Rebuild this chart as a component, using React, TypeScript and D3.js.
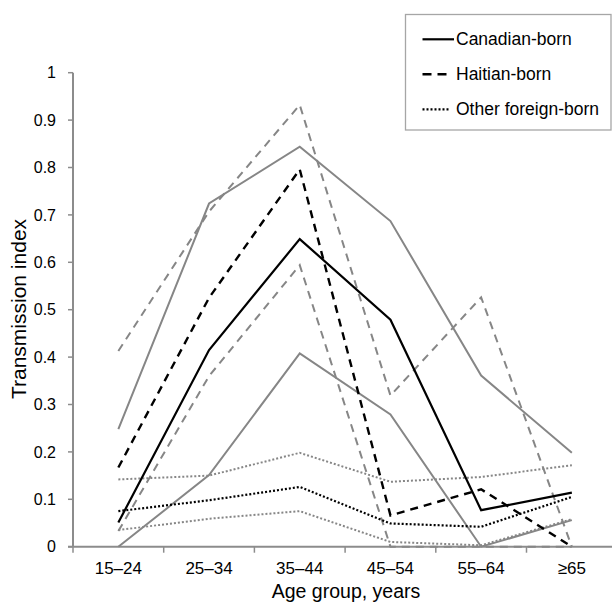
import React from "react";
import * as d3 from "d3";

const categories = ["15–24", "25–34", "35–44", "45–54", "55–64", "≥65"];
const yTicks = [0, 0.1, 0.2, 0.3, 0.4, 0.5, 0.6, 0.7, 0.8, 0.9, 1];

const canadian = [0.051, 0.415, 0.649, 0.479, 0.077, 0.114];
const canadianUpper = [0.248, 0.724, 0.844, 0.687, 0.361, 0.198];
const canadianLower = [0, 0.151, 0.408, 0.279, 0, 0.056];
const haitian = [0.167, 0.525, 0.796, 0.066, 0.121, 0];
const haitianUpper = [0.413, 0.707, 0.932, 0.319, 0.526, 0];
const haitianLower = [0.033, 0.36, 0.594, 0, 0, 0];
const other = [0.075, 0.098, 0.126, 0.049, 0.042, 0.105];
const otherUpper = [0.142, 0.15, 0.198, 0.137, 0.147, 0.172];
const otherLower = [0.035, 0.059, 0.075, 0.01, 0.003, 0.058];

const legendLabels = ["Canadian-born", "Haitian-born", "Other foreign-born"];

const GRAY = "#868686";
const AXIS = "#8c8c8c";
const FONT = "Liberation Sans, Arial, sans-serif";

type Style = { color: string; width: number; dash: string | null };
const solidBlack: Style = { color: "#000", width: 2.2, dash: null };
const dashBlack: Style = { color: "#000", width: 2.4, dash: "8,6" };
const dotBlack: Style = { color: "#000", width: 2.2, dash: "2,2" };
const solidGray: Style = { color: GRAY, width: 2, dash: null };
const dashGray: Style = { color: GRAY, width: 2, dash: "8,6" };
const dotGray: Style = { color: GRAY, width: 2, dash: "2,2" };

const series: { values: number[]; style: Style }[] = [
  { values: otherUpper, style: dotGray },
  { values: otherLower, style: dotGray },
  { values: haitianUpper, style: dashGray },
  { values: haitianLower, style: dashGray },
  { values: canadianUpper, style: solidGray },
  { values: canadianLower, style: solidGray },
  { values: other, style: dotBlack },
  { values: haitian, style: dashBlack },
  { values: canadian, style: solidBlack },
];

const legendStyles = [solidBlack, dashBlack, dotBlack];

export default function App() {
  const W = 612;
  const H = 603;
  const x0 = 73;
  const band = 90.7;
  const x = d3
    .scaleBand<string>()
    .domain(categories)
    .range([x0, x0 + band * categories.length])
    .paddingInner(0)
    .paddingOuter(0);
  const y = d3.scaleLinear().domain([0, 1]).range([546.7, 72.7]);
  const cx = (c: string) => (x(c) as number) + x.bandwidth() / 2;

  const line = d3
    .line<number>()
    .x((_, i) => cx(categories[i]))
    .y((d) => y(d));

  return (
    <svg
      width={W}
      height={H}
      style={{ position: "absolute", left: 0, top: 0 }}
      fontFamily={FONT}
    >
      <rect x={0} y={0} width={W} height={H} fill="#fff" />
      {/* y axis */}
      <line x1={x0} x2={x0} y1={y(1)} y2={y(0)} stroke={AXIS} strokeWidth={2} />
      {yTicks.map((t) => (
        <g key={t}>
          <line x1={x0 - 5} x2={x0} y1={y(t)} y2={y(t)} stroke={AXIS} strokeWidth={1.5} />
          <text
            x={56}
            y={y(t)}
            dy="0.35em"
            textAnchor="end"
            fontSize={16}
            fill="#000"
          >
            {d3.format("")(t)}
          </text>
        </g>
      ))}
      {/* x axis */}
      <line x1={x0 - 5} x2={W} y1={y(0)} y2={y(0)} stroke={AXIS} strokeWidth={2} />
      {categories.map((c) => (
        <g key={c}>
          <line
            x1={(x(c) as number) + band}
            x2={(x(c) as number) + band}
            y1={y(0)}
            y2={y(0) + 6}
            stroke={AXIS}
            strokeWidth={1.5}
          />
          <text x={cx(c)} y={574} textAnchor="middle" fontSize={17} fill="#000">
            {c}
          </text>
        </g>
      ))}
      <line x1={x0} x2={x0} y1={y(0)} y2={y(0) + 6} stroke={AXIS} strokeWidth={1.5} />
      {/* series */}
      {series.map((s, i) => (
        <path
          key={i}
          d={line(s.values) as string}
          fill="none"
          stroke={s.style.color}
          strokeWidth={s.style.width}
          strokeDasharray={s.style.dash ?? undefined}
          strokeLinejoin="miter"
        />
      ))}
      {/* axis titles */}
      <text x={346} y={598} textAnchor="middle" fontSize={19.5} fill="#000">
        Age group, years
      </text>
      <text
        transform="translate(26,309) rotate(-90)"
        textAnchor="middle"
        fontSize={21}
        fill="#000"
      >
        Transmission index
      </text>
      {/* legend */}
      <rect x={405.5} y={14.5} width={205.5} height={115.5} fill="#fff" stroke="#a6a6a6" strokeWidth={1.3} />
      {legendLabels.map((l, i) => {
        const ly = 39.3 + i * 35;
        const st = legendStyles[i];
        return (
          <g key={l}>
            <line
              x1={422.5}
              x2={i === 0 ? 454 : 450}
              y1={ly}
              y2={ly}
              stroke={st.color}
              strokeWidth={st.width}
              strokeDasharray={i === 1 ? "9,6" : st.dash ?? undefined}
            />
            <text x={456} y={ly} dy="0.35em" fontSize={17.5} fill="#000">
              {l}
            </text>
          </g>
        );
      })}
    </svg>
  );
}
